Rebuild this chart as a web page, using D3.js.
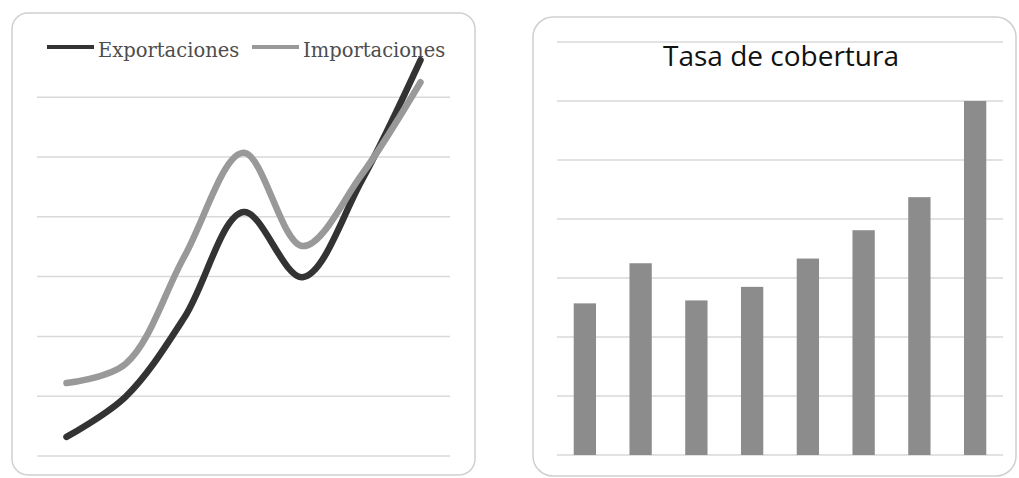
<!DOCTYPE html>
<html>
<head>
<meta charset="utf-8">
<script src="https://cdn.jsdelivr.net/npm/d3@7"></script>
<style>
  html, body { margin: 0; padding: 0; background: #fff; }
  svg { display: block; }
</style>
</head>
<body>
<svg id="chart" width="1019" height="478"></svg>
<script>
// Exportaciones / Importaciones (line panel)
const periodosLinea = ["1", "2", "3", "4", "5", "6", "7"];
const exportaciones = [0.32, 0.99, 2.32, 4.08, 2.99, 4.60, 6.62];
const importaciones = [1.22, 1.54, 3.34, 5.07, 3.51, 4.70, 6.25];
const serieNombres = ["Exportaciones", "Importaciones"];
const gridLinea = [0, 1, 2, 3, 4, 5, 6];

// Tasa de cobertura (bar panel)
const periodosBarras = ["1", "2", "3", "4", "5", "6", "7", "8"];
const cobertura = [2.57, 3.25, 2.62, 2.85, 3.33, 3.81, 4.37, 6.0];
const gridBarras = [0, 1, 2, 3, 4, 5, 6, 7];
const tituloBarras = "Tasa de cobertura";

const svg = d3.select("#chart");
const gridColor = "#d9d9d9";
const colors = { Exportaciones: "#333333", Importaciones: "#999999" };

// ---------- Left panel: lines ----------
const left = svg.append("g");
left.append("rect")
  .attr("x", 12).attr("y", 13).attr("width", 463).attr("height", 462)
  .attr("rx", 16).attr("ry", 16)
  .attr("fill", "#fff").attr("stroke", "#cfcfcf").attr("stroke-width", 1.5);

const xL = d3.scalePoint().domain(periodosLinea).range([37, 450]).padding(0.5);
const yL = d3.scaleLinear().domain([0, 7]).range([456, 37.4]);

left.append("g").selectAll("line").data(gridLinea).join("line")
  .attr("x1", 37).attr("x2", 450)
  .attr("y1", d => yL(d)).attr("y2", d => yL(d))
  .attr("stroke", gridColor).attr("stroke-width", 1.5);

const lineGen = d3.line()
  .x((d, i) => xL(periodosLinea[i]))
  .y(d => yL(d))
  .curve(d3.curveCatmullRom.alpha(0.5));

[["Exportaciones", exportaciones], ["Importaciones", importaciones]].forEach(([name, vals]) => {
  left.append("path")
    .datum(vals)
    .attr("d", lineGen)
    .attr("fill", "none")
    .attr("stroke", colors[name])
    .attr("stroke-width", 6.5)
    .attr("stroke-linecap", "round")
    .attr("stroke-linejoin", "round");
});

// legend
const legendX = [47, 252];
serieNombres.forEach((name, i) => {
  const g = left.append("g").attr("transform", `translate(${legendX[i]},47)`);
  g.append("line").attr("x1", 0).attr("x2", 47).attr("y1", 0).attr("y2", 0)
    .attr("stroke", colors[name]).attr("stroke-width", 4);
  g.append("text").attr("x", 51).attr("y", 10)
    .attr("font-family", "'DejaVu Serif', 'Liberation Serif', serif")
    .attr("font-size", 19.5).attr("fill", "#4d4d4d")
    .text(name);
});

// ---------- Right panel: bars ----------
const right = svg.append("g");
right.append("rect")
  .attr("x", 533).attr("y", 17).attr("width", 483).attr("height", 459)
  .attr("rx", 20).attr("ry", 20)
  .attr("fill", "#fff").attr("stroke", "#cfcfcf").attr("stroke-width", 1.5);

const xB = d3.scaleBand().domain(periodosBarras).range([557, 1003])
  .paddingInner(0.6).paddingOuter(0.3);
const yB = d3.scaleLinear().domain([0, 7]).range([455, 42]);

right.append("g").selectAll("line").data(gridBarras).join("line")
  .attr("x1", 557).attr("x2", 1003)
  .attr("y1", d => yB(d)).attr("y2", d => yB(d))
  .attr("stroke", gridColor).attr("stroke-width", 1.5);

right.append("g").selectAll("rect").data(cobertura).join("rect")
  .attr("x", (d, i) => xB(periodosBarras[i]))
  .attr("width", xB.bandwidth())
  .attr("y", d => yB(d))
  .attr("height", d => yB(0) - yB(d))
  .attr("fill", "#8c8c8c");

right.append("text")
  .attr("x", 781).attr("y", 66)
  .attr("text-anchor", "middle")
  .attr("font-family", "'Open Sans', 'Noto Sans', sans-serif")
  .attr("font-size", 28).attr("fill", "#111")
  .text(tituloBarras);
</script>
</body>
</html>
